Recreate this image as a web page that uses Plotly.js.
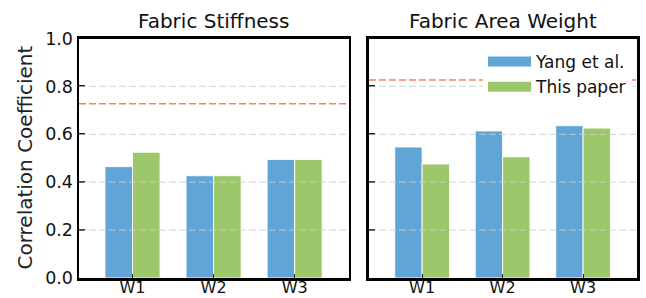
<!DOCTYPE html>
<html>
<head>
<meta charset="utf-8">
<script src="https://cdn.plot.ly/plotly-3.0.1.min.js"></script>
<style>html,body{margin:0;padding:0;background:#fff;}#chart{width:646px;height:298px;}</style>
</head>
<body>
<div id="chart"></div>
<script>
var categories = ['W1', 'W2', 'W3'];
var seriesNames = ['Yang et al.', 'This paper'];
var stiffnessYang = [0.465, 0.427, 0.495];
var stiffnessThis = [0.525, 0.427, 0.495];
var weightYang = [0.547, 0.614, 0.636];
var weightThis = [0.476, 0.506, 0.626];
var stiffnessRef = 0.728;
var weightRef = 0.827;
var panelTitles = ['Fabric Stiffness', 'Fabric Area Weight'];
var yTicks = [0.0, 0.2, 0.4, 0.6, 0.8, 1.0];
var gridTicks = [0.2, 0.4, 0.6, 0.8];

var BLUE = '#60a5d6', GREEN = '#9cc76a';
var FONT = 'DejaVu Sans, sans-serif';
var edge = {color: 'rgba(255,255,255,0.9)', width: 1};

var traces = [
  {type: 'bar', x: categories, y: stiffnessYang, name: seriesNames[0], marker: {color: BLUE, line: edge}, xaxis: 'x', yaxis: 'y', showlegend: false},
  {type: 'bar', x: categories, y: stiffnessThis, name: seriesNames[1], marker: {color: GREEN, line: edge}, xaxis: 'x', yaxis: 'y', showlegend: false},
  {type: 'bar', x: categories, y: weightYang, name: seriesNames[0], marker: {color: BLUE, line: edge}, xaxis: 'x2', yaxis: 'y2', showlegend: false},
  {type: 'bar', x: categories, y: weightThis, name: seriesNames[1], marker: {color: GREEN, line: edge}, xaxis: 'x2', yaxis: 'y2', showlegend: false},
  {type: 'scatter', mode: 'lines', x: [null], y: [null], name: seriesNames[0], line: {color: BLUE, width: 10}, xaxis: 'x2', yaxis: 'y2'},
  {type: 'scatter', mode: 'lines', x: [null], y: [null], name: seriesNames[1], line: {color: GREEN, width: 10}, xaxis: 'x2', yaxis: 'y2'}
];

function xax(domain) {
  return {
    domain: domain, type: 'category', range: [-0.66, 2.67],
    showline: true, linecolor: '#000', linewidth: 2.5, mirror: true,
    ticks: 'inside', ticklen: 4, tickwidth: 1, tickcolor: '#222',
    tickfont: {family: FONT, size: 16, color: '#111'}, ticklabelstandoff: -7,
    showgrid: false, zeroline: false, fixedrange: true
  };
}
function yax(showLabels, anchor) {
  return {
    domain: [0.0671, 0.8708], range: [0, 1], anchor: anchor,
    tickvals: yTicks, ticktext: yTicks.map(function(v){return v.toFixed(1);}),
    showticklabels: showLabels,
    showline: true, linecolor: '#000', linewidth: 2.5, mirror: true,
    ticks: 'inside', ticklen: 6, tickwidth: 2, tickcolor: '#000',
    tickfont: {family: FONT, size: 17.5, color: '#111'},
    showgrid: false, zeroline: false, fixedrange: true
  };
}

var shapes = [];
[['x', 'y'], ['x2', 'y2']].forEach(function(ax) {
  gridTicks.forEach(function(v) {
    shapes.push({type: 'line', xref: ax[0] + ' domain', yref: ax[1], x0: 0, x1: 1, y0: v, y1: v,
      line: {color: 'rgba(205,205,205,0.7)', width: 1.3, dash: '7px,3px'}, layer: 'above'});
  });
});
shapes.push({type: 'line', xref: 'x domain', yref: 'y', x0: 0, x1: 1, y0: stiffnessRef, y1: stiffnessRef,
  line: {color: '#f3825f', width: 1.5, dash: '7px,3px'}, layer: 'above'});
shapes.push({type: 'line', xref: 'x2 domain', yref: 'y2', x0: 0, x1: 1, y0: weightRef, y1: weightRef,
  line: {color: '#f3825f', width: 1.5, dash: '7px,3px'}, layer: 'above'});

var annotations = [
  {text: panelTitles[0], xref: 'x domain', yref: 'paper', x: 0.5, y: 1 - 21/298, xanchor: 'center', yanchor: 'middle', showarrow: false, font: {family: FONT, size: 20, color: '#111'}},
  {text: panelTitles[1], xref: 'x2 domain', yref: 'paper', x: 0.5, y: 1 - 21/298, xanchor: 'center', yanchor: 'middle', showarrow: false, font: {family: FONT, size: 20, color: '#111'}},
  {text: 'Correlation Coefficient', xref: 'paper', yref: 'paper', x: 24/646, y: 1 - 157.5/298, xanchor: 'center', yanchor: 'middle', textangle: -90, showarrow: false, font: {family: FONT, size: 20, color: '#222'}}
];

var layout = {
  width: 646, height: 298,
  margin: {l: 0, r: 0, t: 0, b: 0},
  paper_bgcolor: '#fff', plot_bgcolor: '#fff',
  barmode: 'group', bargap: 0.32, bargroupgap: 0.0,
  xaxis: xax([0.1223, 0.5402]),
  xaxis2: xax([0.5712, 0.9861]),
  yaxis: yax(true, 'x'),
  yaxis2: yax(false, 'x2'),
  shapes: shapes,
  annotations: annotations,
  showlegend: true,
  legend: {x: 632/646, y: 1 - 44/298, xanchor: 'right', yanchor: 'top', bgcolor: '#fff', borderwidth: 0,
    font: {family: FONT, size: 17, color: '#111'}, itemwidth: 43, tracegroupgap: 0},
  font: {family: FONT}
};

Plotly.newPlot('chart', traces, layout, {staticPlot: true, displayModeBar: false});
</script>
</body>
</html>
